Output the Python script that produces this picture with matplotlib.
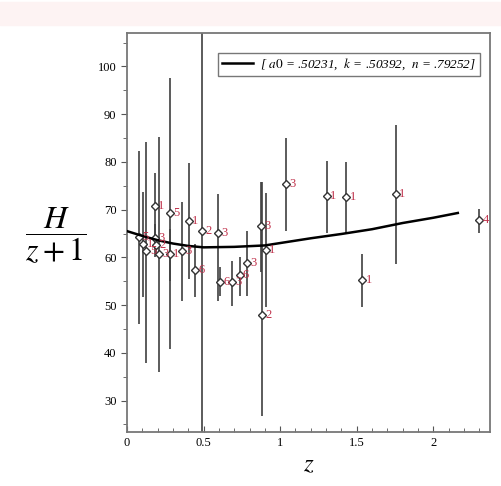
import matplotlib.pyplot as plt
from matplotlib.patches import Rectangle

# measured points: redshift, H/(z+1), error bar ends, sample label
z = [0.077, 0.106, 0.127, 0.18, 0.18, 0.19, 0.208, 0.28, 0.278, 0.356, 0.404, 0.446,
     0.487, 0.596, 0.605, 0.687, 0.735, 0.785, 0.877, 0.884, 0.906,
     1.04, 1.306, 1.432, 1.535, 1.755, 2.30]
h = [64.3, 62.8, 61.4, 70.8, 64.0, 62.6, 60.7, 69.4, 60.7, 61.4, 67.7, 57.3,
     65.5, 65.2, 54.9, 54.8, 56.3, 58.9, 66.6, 48.0, 61.6,
     75.3, 72.9, 72.7, 55.3, 73.2, 67.8]
h_lo = [46.0, 51.6, 37.9, 63.8, 60.0, 60.5, 36.0, 40.8, 55.0, 50.9, 55.4, 51.8,
        15.0, 50.9, 52.0, 49.9, 51.9, 51.9, 57.0, 26.8, 49.5,
        65.5, 65.2, 64.8, 49.5, 58.6, 65.2]
h_hi = [82.3, 73.6, 84.2, 77.6, 67.0, 64.5, 85.3, 97.5, 66.0, 71.5, 79.7, 62.8,
        115.0, 73.2, 58.0, 59.3, 60.0, 65.5, 75.7, 75.7, 73.4,
        85.1, 80.2, 79.9, 60.7, 87.7, 70.1]
labels = ['5', '1', '5', '1', '3', '2', '3', '5', '1', '3', '1', '6',
          '2', '3', '6', '3', '6', '3', '3', '2', '1',
          '3', '1', '1', '1', '1', '4']

# fitted curve
fit_z = [0.0, 0.1, 0.2, 0.3, 0.4, 0.5, 0.7, 0.9, 1.0, 1.2, 1.4, 1.6, 1.8, 2.0, 2.16]
fit_h = [65.5, 64.5, 63.6, 62.9, 62.4, 62.1, 62.2, 62.5, 63.0, 64.0, 64.9, 65.9, 67.2, 68.3, 69.3]
fit_label = '[ $a0$ = .50231,  $k$ = .50392,  $n$ = .79252]'

plt.rcParams['font.family'] = ['Liberation Serif', 'DejaVu Serif']
plt.rcParams['mathtext.fontset'] = 'stix'

fig = plt.figure(figsize=(5.01, 4.86), dpi=100)
fig.patches.append(Rectangle((0, 1 - 25 / 486), 1, 23 / 486, transform=fig.transFigure,
                             color='#fdf3f3', zorder=0))
ax = fig.add_axes([0.2535, 0.111, 0.7245, 0.821])

ax.vlines(z, h_lo, h_hi, color='#404040', linewidth=1.2, zorder=2)
ax.plot(z, h, linestyle='none', marker='D', markersize=4.5, markerfacecolor='white',
        markeredgecolor='#333333', markeredgewidth=1.0, zorder=3)
for zi, hi, lab in zip(z, h, labels):
    ax.text(zi + 0.022, hi, lab, color='#c0304a', fontsize=9, va='center', ha='left', zorder=4)

ax.plot(fit_z, fit_h, color='black', linewidth=1.8, label=fit_label, zorder=3)

ax.set_xlim(0, 2.37)
ax.set_ylim(23.4, 107)
ax.set_xticks([0, 0.5, 1, 1.5, 2])
ax.set_xticklabels(['0', '0.5', '1', '1.5', '2'])
ax.set_xticks([i / 10 for i in range(24)], minor=True)
ax.set_yticks([30, 40, 50, 60, 70, 80, 90, 100])
ax.set_yticks([25 + 5 * i for i in range(17)], minor=True)
ax.tick_params(axis='x', which='both', direction='in', labelsize=9, color='#555555')
ax.tick_params(axis='y', which='both', direction='out', labelsize=9, color='#555555')
ax.tick_params(which='major', length=4)
ax.tick_params(which='minor', length=3)
for s in ax.spines.values():
    s.set_color('#777777')
    s.set_linewidth(1.3)

ax.set_xlabel('$z$', fontsize=18, labelpad=4)
fig.text(0.112, 0.515, r'$\dfrac{H}{z+1}$', fontsize=23, ha='center', va='center')

leg = ax.legend(loc='upper right', bbox_to_anchor=(0.99, 0.967), fontsize=9.5, frameon=True,
                fancybox=False, handlelength=2.4, borderpad=0.3, handletextpad=0.5)
leg.get_frame().set_edgecolor('#555555')
leg.get_frame().set_linewidth(1.0)
for t in leg.get_texts():
    t.set_fontstyle('italic')

fig.savefig('out.png', dpi=100)
